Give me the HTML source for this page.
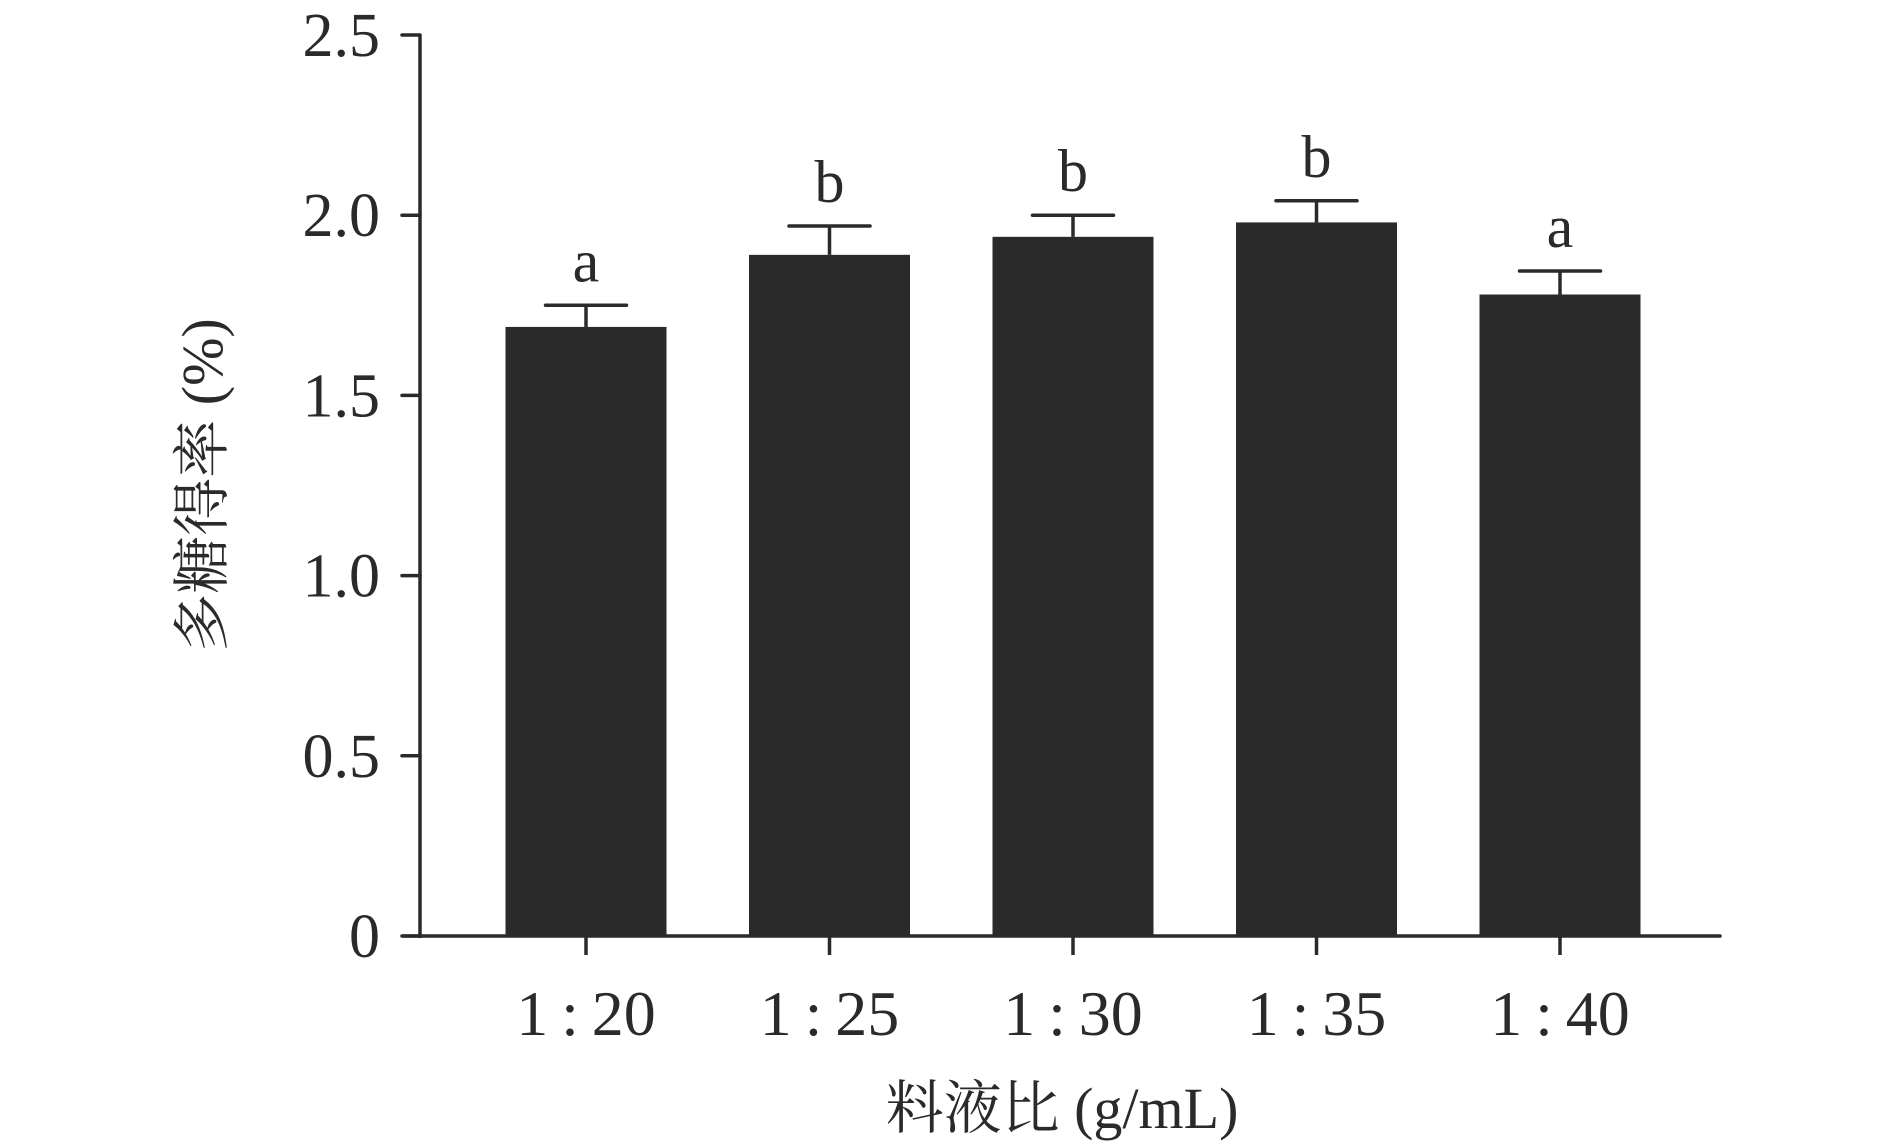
<!DOCTYPE html>
<html><head><meta charset="utf-8"><style>
html,body{margin:0;padding:0;background:#fff;}
svg{display:block;font-family:"Liberation Serif","Noto Serif CJK SC",serif;}
</style></head><body>
<svg id="chart" width="1890" height="1147" viewBox="0 0 1890 1147" xmlns="http://www.w3.org/2000/svg">
<g id="plot"></g>
</svg>
<script>
const categories = ["1:20","1:25","1:30","1:35","1:40"];
const values = [1.69, 1.89, 1.94, 1.98, 1.78];
const errors = [0.06, 0.08, 0.06, 0.06, 0.065];
const letters = ["a","b","b","b","a"];
const yTicks = [0, 0.5, 1.0, 1.5, 2.0, 2.5];
const yTickLabels = ["0","0.5","1.0","1.5","2.0","2.5"];

const NS="http://www.w3.org/2000/svg";
const g=document.getElementById('plot');
const C="#2b2a2b";
const y0=936, yTop=35, yMax=2.5;
const xFirst=586, step=243.5, barW=161, capW=81;
function yScale(v){return y0-(v/yMax)*(y0-yTop);}
function xScale(i){return xFirst+i*step;}
function mk(tag,attrs){const e=document.createElementNS(NS,tag);for(const k in attrs)e.setAttribute(k,attrs[k]);g.appendChild(e);return e;}

categories.forEach((c,i)=>{
  const cx=xScale(i), top=yScale(values[i]);
  const r=mk('rect',{x:cx-barW/2,y:top,width:barW,height:y0-top,fill:C});
  
  
  const et=yScale(values[i]+errors[i]);
  const ev=mk('line',{x1:cx,x2:cx,y1:top,y2:et,stroke:C,'stroke-width':3.5});
  
  
  const cap=mk('line',{x1:cx-capW/2,x2:cx+capW/2,y1:et,y2:et,stroke:C,'stroke-width':3.5,'stroke-linecap':'round'});
  
  
  const lt=mk('text',{x:cx,y:et-24,'text-anchor':'middle','font-size':60,fill:C});
  lt.textContent=letters[i];
  
  
  const tk=mk('line',{x1:cx,x2:cx,y1:y0,y2:y0+19,stroke:C,'stroke-width':3.5});
  
  
  const tl=mk('text',{x:cx,y:1035,'text-anchor':'middle','font-size':64,fill:C});
  tl.textContent=c.replace(':','\u2009:\u2009');
  
  
});

const ya=mk('line',{x1:420,x2:420,y1:yTop,y2:y0+2,stroke:C,'stroke-width':3.5});


const xa=mk('line',{x1:403,x2:1720,y1:y0,y2:y0,stroke:C,'stroke-width':3.5,'stroke-linecap':'round'});


yTicks.forEach((v,i)=>{
  const y=yScale(v);
  const t=mk('line',{x1:402,x2:420,y1:y,y2:y,stroke:C,'stroke-width':3.5,'stroke-linecap':'round'});
  
  
  const l=mk('text',{x:380,y:y+21,'text-anchor':'end','font-size':62,fill:C});
  l.textContent=yTickLabels[i];
  
  
});

const yt=mk('text',{x:0,y:0,'text-anchor':'middle','font-size':58,fill:C,transform:'translate(222,485) rotate(-90)'});
yt.textContent='多糖得率 (%)';


const xt=mk('text',{x:1062,y:1128,'text-anchor':'middle','font-size':58,fill:C});
xt.textContent='料液比 (g/mL)';


</script>
</body></html>
